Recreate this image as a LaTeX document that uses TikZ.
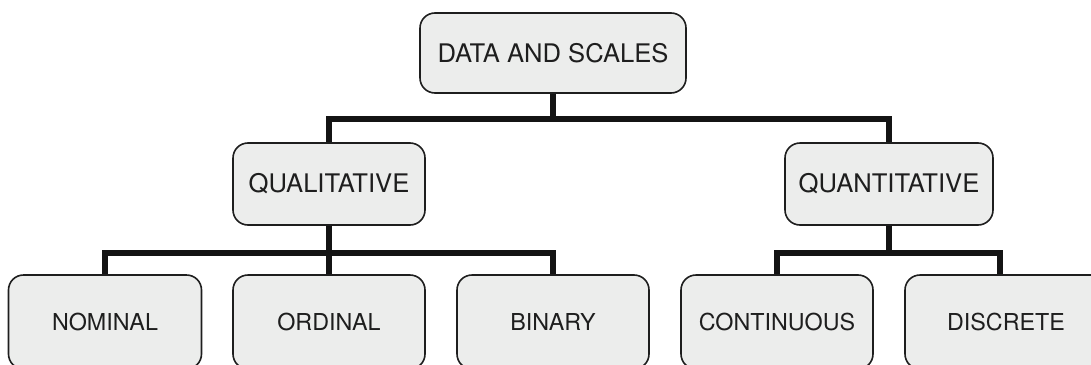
\documentclass[tikz,border=0pt]{standalone}
\usepackage{fontspec}
\setmainfont{TeX Gyre Heros}
\usepackage{tikz}
\usetikzlibrary{positioning}
\definecolor{boxfill}{RGB}{236,237,236}
\definecolor{boxline}{RGB}{30,30,30}

\begin{document}
\begin{tikzpicture}[x=1pt,y=-1pt,
    boxstyle/.style={rectangle,rounded corners=15pt,draw=boxline,fill=boxfill,
    line width=1.6pt,inner sep=0pt,text=boxline},
    topfont/.style={font=\fontsize{25.6}{30}\selectfont},
    leaffont/.style={font=\fontsize{23.3}{28}\selectfont},
    linkstyle/.style={draw=black!92,line width=6pt}]
    \useasboundingbox (0,0) rectangle (1091,364);
    \node[boxstyle,topfont,minimum width=266pt,minimum height=80pt] (data) at (553,53) {DATA AND SCALES};
    \node[boxstyle,topfont,minimum width=192pt,minimum height=82pt] (qual) at (329,184) {QUALITATIVE};
    \node[boxstyle,topfont,minimum width=208pt,minimum height=82pt] (quant) at (889,184) {QUANTITATIVE};
    \foreach \name/\txt/\x/\w in {nominal/NOMINAL/105/193,ordinal/ORDINAL/329/192,binary/BINARY/553/192,
        continuous/CONTINUOUS/777/192,discrete/DISCRETE/1006/202}
        \node[boxstyle,leaffont,minimum width=\w pt,minimum height=94pt] (\name) at (\x,322) {\txt};
    % first level
    \draw[linkstyle] (data.south) -- ++(0,25) -| (qual.north);
    \draw[linkstyle] (data.south) -- ++(0,25) -| (quant.north);
    % second level
    \foreach \leaf in {nominal,ordinal,binary}
        \draw[linkstyle] (qual.south) -- ++(0,27) -| (\leaf.north);
    \draw[linkstyle] (quant.south) -- ++(0,27) -| (continuous.north);
    \draw[linkstyle] (quant.south) -- ++(0,27) -| ([xshift=-6pt]discrete.north);
\end{tikzpicture}
\end{document}
